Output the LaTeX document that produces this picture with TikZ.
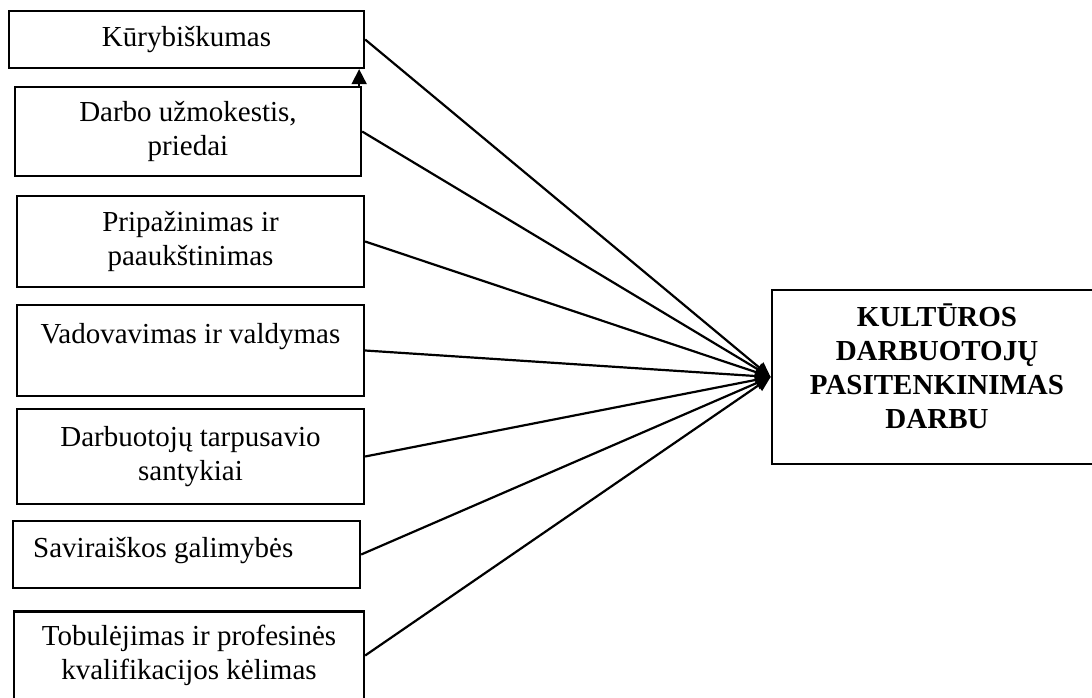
\documentclass[tikz,border=0pt]{standalone}
\usepackage{fontspec}
\setmainfont{Liberation Serif}
\usetikzlibrary{arrows.meta}
\begin{document}
\begin{tikzpicture}[x=1pt,y=-1pt,
  factor/.style={draw,line width=2.3pt,align=center,inner sep=0pt,
    font=\fontsize{29}{34}\selectfont},
  plaintext/.style={inner sep=0pt,align=center,font=\fontsize{29}{34}\selectfont},
  conn/.style={line width=2.2pt,-{Triangle[length=15pt,width=13pt]}},
  stray/.style={line width=1.8pt,-{Triangle[length=15pt,width=15pt]}}]
\clip (0,0) rectangle (1092,697);
\node[factor,minimum width=355pt,minimum height=57pt] (b1) at (186.5,39.5) {Kūrybiškumas};
\node[factor,minimum width=346pt,minimum height=89pt] (b2) at (188,131.5) {Darbo užmokestis,\\priedai};
\node[factor,minimum width=347pt,minimum height=91pt] (b3) at (190.5,241.5) {Pripažinimas ir\\paaukštinimas};
\node[factor,minimum width=347pt,minimum height=91pt] (b4) at (190.5,350.5) {Vadovavimas ir valdymas\\\mbox{}};
\node[factor,minimum width=347pt,minimum height=95pt] (b5) at (190.5,456.5) {Darbuotojų tarpusavio\\santykiai};
\node[factor,minimum width=347pt,minimum height=67pt] (b6) at (186.5,554.5) {};
\node[plaintext,anchor=base west] (t6) at (33,557) {Saviraiškos galimybės};
\node[factor,minimum width=350pt,minimum height=88pt] (b7) at (189,655.5) {Tobulėjimas ir profesinės\\kvalifikacijos kėlimas};
\node[draw,line width=2.8pt,minimum width=330pt,minimum height=174pt,inner sep=0pt] (r) at (937,377) {};
\node[plaintext,font=\fontsize{29}{34}\selectfont\bfseries] (tr) at (937,366) {KULTŪROS\\DARBUOTOJŲ\\PASITENKINIMAS\\DARBU};
\foreach \b in {b1,b2,b3,b4,b5,b6,b7}{
  \draw[conn] (\b.east) -- (r.west);
}
\draw[stray] ([xshift=-3pt]b2.north east) -- ([xshift=-6pt]b1.south east);
\end{tikzpicture}
\end{document}
